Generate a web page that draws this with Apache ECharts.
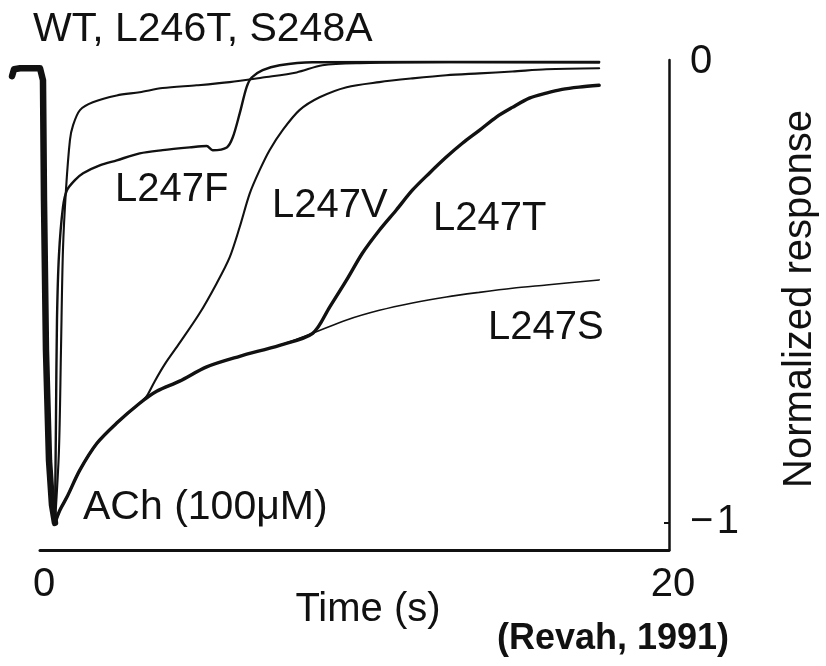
<!DOCTYPE html>
<html>
<head>
<meta charset="utf-8">
<script src="https://cdn.jsdelivr.net/npm/echarts@6/dist/echarts.min.js"></script>
<style>
html,body{margin:0;padding:0;background:#fff;}
#chart{width:826px;height:666px;}
</style>
</head>
<body>
<div id="chart"></div>
<script>
// Time (s) and normalized response values
const onsetT = [-0.889, -0.825, -0.635, 0.0, 0.095, 0.127, 0.19, 0.286, 0.381, 0.476];
const onsetV = [-0.030, -0.015, -0.013, -0.013, -0.039, -0.300, -0.626, -0.865, -0.962, -1.001];

const commonT = [0.476, 0.635, 0.857, 1.27, 1.81, 2.44, 3.17, 3.71, 4.44, 5.30, 6.35, 7.62, 8.67];
const commonV = [-1.001, -0.973, -0.945, -0.886, -0.828, -0.784, -0.741, -0.715, -0.693, -0.662, -0.639, -0.615, -0.589];

const wtT = [0.476, 0.603, 0.667, 0.730, 0.825, 0.952, 1.05, 1.27, 1.68, 2.44, 3.17, 3.90, 4.98, 6.03, 7.08, 8.16, 8.98, 10.16, 13.0, 17.78];
const wtV = [-1.001, -0.843, -0.626, -0.408, -0.278, -0.169, -0.137, -0.104, -0.087, -0.072, -0.065, -0.056, -0.050, -0.043, -0.033, -0.022, -0.0065, -0.002, 0.0, -0.001];

const l247fT = [0.476, 0.508, 0.540, 0.603, 0.730, 0.857, 1.11, 1.37, 1.90, 2.44, 3.17, 3.90, 4.76, 5.30, 5.49, 5.94, 6.13, 6.35, 6.57, 6.73, 7.08, 7.62, 8.67, 17.78];
const l247fV = [-1.001, -0.778, -0.560, -0.419, -0.315, -0.278, -0.256, -0.241, -0.224, -0.213, -0.198, -0.191, -0.185, -0.182, -0.191, -0.185, -0.163, -0.111, -0.054, -0.033, -0.017, -0.0065, 0.0, 0.001];

const l247vT = [3.40, 3.65, 3.97, 4.44, 5.08, 5.62, 6.03, 6.35, 6.67, 6.98, 7.30, 7.71, 8.25, 8.89, 9.75, 10.79, 11.84, 12.92, 13.97, 15.02, 16.10, 17.78];
const l247vV = [-0.725, -0.693, -0.656, -0.610, -0.545, -0.480, -0.424, -0.358, -0.285, -0.235, -0.191, -0.148, -0.104, -0.076, -0.054, -0.043, -0.035, -0.028, -0.024, -0.020, -0.015, -0.013];

const l247tT = [9.21, 9.75, 10.25, 10.79, 11.33, 11.84, 12.38, 12.92, 13.43, 13.97, 14.51, 15.02, 15.56, 16.10, 16.60, 17.14, 17.78];
const l247tV = [-0.532, -0.473, -0.415, -0.365, -0.321, -0.278, -0.241, -0.206, -0.176, -0.148, -0.119, -0.098, -0.078, -0.067, -0.059, -0.054, -0.050];

const l247sT = [9.75, 10.79, 11.84, 12.92, 13.97, 15.02, 16.10, 17.78];
const l247sV = [-0.560, -0.539, -0.523, -0.510, -0.500, -0.491, -0.484, -0.473];

const xTickLabels = [0, 20];
const yTickLabels = [0, -1];

function pairs(ts, vs) { return ts.map((t, i) => [t, vs[i]]); }
const commonPts = pairs(commonT, commonV);
const dOnset = pairs(onsetT, onsetV);
const dWT = pairs(wtT, wtV);
const dF = pairs(l247fT, l247fV);
const dV = commonPts.slice(0, 7).concat(pairs(l247vT, l247vV));
const dT = commonPts.concat(pairs(l247tT, l247tV));
const dS = commonPts.concat(pairs(l247sT, l247sV));

const FONT = "'Liberation Sans', Arial, Helvetica, sans-serif";
const INK = '#111';

function line(name, data, width, smooth) {
  return {
    name: name, type: 'line', xAxisIndex: 1, yAxisIndex: 1, data: data,
    showSymbol: false, symbol: 'none', smooth: smooth, animation: false,
    lineStyle: { color: INK, width: width, cap: 'round', join: 'round' }
  };
}

const chart = echarts.init(document.getElementById('chart'), null, { renderer: 'canvas' });
chart.setOption({
  backgroundColor: '#fff',
  animation: false,
  grid: [
    { left: 40, right: 157, top: 60, bottom: 116 },
    { left: 8.55, right: 157, top: 60, bottom: 116 }
  ],
  xAxis: [
    {
      gridIndex: 0, type: 'value', min: 0, max: 20, position: 'bottom',
      axisLine: { show: true, onZero: false, lineStyle: { color: INK, width: 3 } },
      axisTick: { show: false },
      splitLine: { show: false },
      axisLabel: {
        customValues: xTickLabels, color: INK, fontSize: 40, fontFamily: FONT, margin: 15,
        padding: [0, 0, 0, 8]
      }
    },
    { gridIndex: 1, type: 'value', min: -1, max: 20, show: false, splitLine: { show: false } }
  ],
  yAxis: [
    {
      gridIndex: 0, type: 'value', min: -1.06, max: 0.005, position: 'right',
      axisLine: { show: true, onZero: false, lineStyle: { color: INK, width: 2.5 } },
      axisTick: { show: true, inside: true, length: 5, customValues: [-1], lineStyle: { color: INK, width: 2 } },
      splitLine: { show: false },
      axisLabel: {
        customValues: yTickLabels, color: INK, fontSize: 40, fontFamily: FONT, margin: 21,
        formatter: function (v) { return v < 0 ? '\u2212\u200a' + Math.abs(v) : String(v); }
      }
    },
    { gridIndex: 1, type: 'value', min: -1.06, max: 0.005, show: false, splitLine: { show: false } }
  ],
  series: [
    line('L247S', dS, 1.6, 0.3),
    line('L247V', dV, 2.1, 0.3),
    line('L247T', dT, 3.4, 0.3),
    line('L247F', dF, 2.4, 0.3),
    line('WT, L246T, S248A', dWT, 2.1, 0.3),
    line('onset', dOnset, 6.5, false)
  ],
  graphic: [
    { type: 'text', x: 33, y: 30, style: { text: 'WT, L246T, S248A', font: '41px ' + FONT, fill: INK, textAlign: 'left', textVerticalAlign: 'middle' } },
    { type: 'text', x: 115, y: 190, style: { text: 'L247F', font: '40px ' + FONT, fill: INK, textAlign: 'left', textVerticalAlign: 'middle' } },
    { type: 'text', x: 272, y: 206, style: { text: 'L247V', font: '40px ' + FONT, fill: INK, textAlign: 'left', textVerticalAlign: 'middle' } },
    { type: 'text', x: 433, y: 219, style: { text: 'L247T', font: '40px ' + FONT, fill: INK, textAlign: 'left', textVerticalAlign: 'middle' } },
    { type: 'text', x: 488, y: 328, style: { text: 'L247S', font: '40px ' + FONT, fill: INK, textAlign: 'left', textVerticalAlign: 'middle' } },
    { type: 'text', x: 83, y: 508, style: { text: 'ACh (100\u03bcM)', font: '41px ' + FONT, fill: INK, textAlign: 'left', textVerticalAlign: 'middle' } },
    { type: 'text', x: 368, y: 610, style: { text: 'Time (s)', font: '40px ' + FONT, fill: INK, textAlign: 'center', textVerticalAlign: 'middle' } },
    { type: 'text', x: 613, y: 639, style: { text: '(Revah, 1991)', font: 'bold 36px ' + FONT, fill: INK, textAlign: 'center', textVerticalAlign: 'middle' } },
    { type: 'text', x: 800, y: 299, rotation: Math.PI / 2, style: { text: 'Normalized response', font: '40px ' + FONT, fill: INK, textAlign: 'center', textVerticalAlign: 'middle' } }
  ]
});
</script>
</body>
</html>
